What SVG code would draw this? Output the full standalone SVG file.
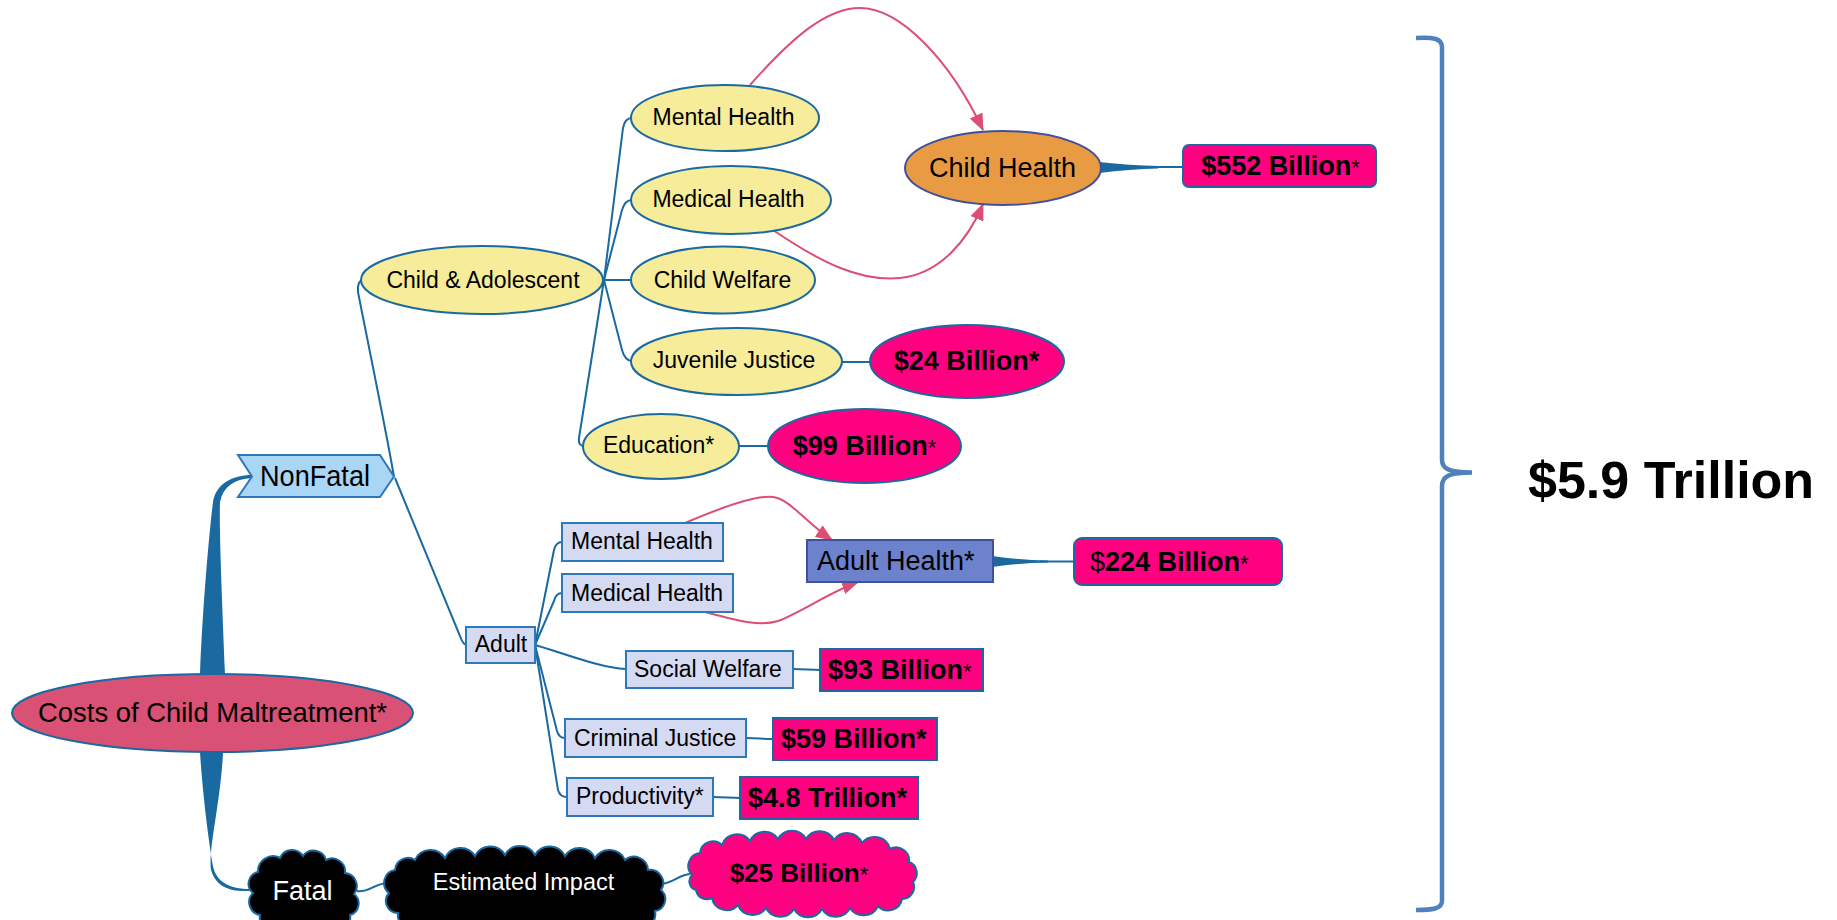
<svg xmlns="http://www.w3.org/2000/svg" width="1837" height="920" viewBox="0 0 1837 920">
<style>
.conn{fill:none;stroke:#1b69a1;stroke-width:2}
.taper{fill:#1b69a1;stroke:none}
.rel{fill:none;stroke:#dc4f74;stroke-width:2}
.yel{fill:#f6ec99;stroke:#1b69a1;stroke-width:2}
.val{fill:#ff0080;stroke:#1b69a1;stroke-width:2}
.abox{fill:#d5daf3;stroke:#2c78b8;stroke-width:2}
.cloud{fill:#000;stroke:#1b69a1;stroke-width:2}
.t{font-family:"Liberation Sans",Arial,Helvetica,sans-serif;font-size:23px;fill:#000}
.b{font-weight:bold;font-size:27px}
.m{text-anchor:middle}
.w{fill:#fff}
.n{font-weight:normal;font-size:22px}
</style>
<defs>
<marker id="ah" markerUnits="userSpaceOnUse" markerWidth="17" markerHeight="14" refX="16" refY="7" orient="auto">
<path d="M0,0 L17,7 L0,14 Z" fill="#dc4f74"/>
</marker>
</defs>
<rect width="1837" height="920" fill="#fff"/>

<g id="connectors">
<path class="taper" d="M200,674 C203,600 210,525 213,502 C216,484 232,475 252,475 L252,478 C234,479 223,487 220,502 C219,525 222,600 225,674 Z"/>
<path class="taper" d="M200,752 C203,800 210,850 213,866 C216,882 230,889 250,889 L250,891 C228,892 216,886 211,870 C208,850 221,800 223,752 Z"/>
<path class="conn" d="M394,477 C388,440 363,318 358,292 Q357,281 363,280"/>
<path class="conn" d="M395,478 L460,636 Q463,645 467,645"/>
<path class="conn" d="M604,280 L623,128 Q625,118 632,118"/>
<path class="conn" d="M604,280 L622,210 Q625,200 632,200"/>
<path class="conn" d="M604,280 L632,280"/>
<path class="conn" d="M604,280 L622,350 Q625,361 632,361"/>
<path class="conn" d="M604,280 L579,438 Q578,446 584,446"/>
<path class="conn" d="M535,645 L554,550 Q556,542 562,542"/>
<path class="conn" d="M535,645 L554,601 Q556,593 562,593"/>
<path class="conn" d="M535,645 C560,652 600,668 626,669"/>
<path class="conn" d="M535,645 L557,731 Q559,738 565,738"/>
<path class="conn" d="M535,645 L558,790 Q560,797 567,797"/>
<path class="conn" d="M842,362 L870,362"/>
<path class="conn" d="M739,446 L768,446"/>
<path class="conn" d="M793,669 C805,669 810,670 820,670"/>
<path class="conn" d="M746,738 C758,738 762,739 773,739"/>
<path class="conn" d="M713,797 C725,797 730,798 740,798"/>
<path class="conn" d="M357,891 C368,893 374,884 387,883"/>
<path class="conn" d="M660,884 C672,884 678,875 690,874"/>
<path class="taper" d="M1099,162 Q1130,165.5 1158,166 L1158,168.5 Q1130,169 1099,173 Z"/>
<path class="conn" d="M1150,167 L1184,167"/>
<path class="taper" d="M992,556 Q1020,560 1048,560.5 L1048,562.5 Q1020,563 992,567 Z"/>
<path class="conn" d="M1040,561.5 L1075,561.5"/>
<path class="rel" marker-end="url(#ah)" d="M750,85 C790,40 825,8 860,8 C900,8 950,60 983,130"/>
<path class="rel" marker-end="url(#ah)" d="M773,230 C820,262 860,282 900,278 C940,274 968,240 983,204"/>
<path class="rel" marker-end="url(#ah)" d="M685,523 C720,508 755,495 773,497 C790,499 805,522 832,540"/>
<path class="rel" marker-end="url(#ah)" d="M705,612 C735,620 760,627 778,621 C800,613 830,592 858,582"/>
</g>

<g id="root">
<ellipse cx="212.5" cy="713" rx="200.5" ry="39" fill="#d95175" stroke="#1b69a1" stroke-width="2"/>
<text class="t m" x="212.5" y="722" style="font-size:27.5px" textLength="349" lengthAdjust="spacingAndGlyphs">Costs of Child Maltreatment*</text>
</g>

<g id="nonfatal">
<polygon points="238,455 380,455 394,476.5 380,497 238,497 252,476.5" fill="#aad6f5" stroke="#2c78b8" stroke-width="2"/>
<text class="t m" x="315" y="486" style="font-size:29px" textLength="110" lengthAdjust="spacingAndGlyphs">NonFatal</text>
</g>

<g id="child-adolescent">
<ellipse class="yel" cx="482" cy="280" rx="121" ry="34"/>
<text class="t m" x="483" y="288">Child &amp; Adolescent</text>
</g>
<g id="child-mental">
<ellipse class="yel" cx="725" cy="118" rx="94" ry="33"/>
<text class="t m" x="723.5" y="125">Mental Health</text>
</g>
<g id="child-medical">
<ellipse class="yel" cx="731" cy="200" rx="100" ry="34"/>
<text class="t m" x="728.5" y="207">Medical Health</text>
</g>
<g id="child-welfare">
<ellipse class="yel" cx="723" cy="280" rx="92" ry="33.5"/>
<text class="t m" x="722.5" y="288">Child Welfare</text>
</g>
<g id="juvenile">
<ellipse class="yel" cx="736.5" cy="361.5" rx="105.5" ry="33.5"/>
<text class="t m" x="734" y="368">Juvenile Justice</text>
</g>
<g id="education">
<ellipse class="yel" cx="661" cy="446.5" rx="78" ry="32.5"/>
<text class="t m" x="658.5" y="453">Education*</text>
</g>
<g id="child-health">
<ellipse cx="1003" cy="168" rx="98" ry="37" fill="#e89b42" stroke="#3f519c" stroke-width="2"/>
<text class="t m" x="1002.5" y="177" style="font-size:27px">Child Health</text>
</g>
<g id="v552">
<rect class="val" x="1183" y="145" width="193" height="42" rx="6"/>
<text class="t b m" x="1280.5" y="175">$552 Billion<tspan class="n">*</tspan></text>
</g>
<g id="v24">
<ellipse class="val" cx="967" cy="361.5" rx="97" ry="36.5"/>
<text class="t b m" x="966.5" y="370">$24 Billion*</text>
</g>
<g id="v99">
<ellipse class="val" cx="864.5" cy="446" rx="96.5" ry="37"/>
<text class="t b m" x="864.5" y="455">$99 Billion<tspan class="n">*</tspan></text>
</g>

<g id="adult">
<rect class="abox" x="466" y="627" width="69" height="36"/>
<text class="t m" x="501" y="652">Adult</text>
</g>
<g id="adult-mental">
<rect class="abox" x="562" y="523" width="161" height="38"/>
<text class="t" x="571" y="549">Mental Health</text>
</g>
<g id="adult-medical">
<rect class="abox" x="562" y="574" width="171" height="38"/>
<text class="t" x="571" y="601">Medical Health</text>
</g>
<g id="social-welfare">
<rect class="abox" x="626" y="651" width="167" height="37"/>
<text class="t" x="634" y="677">Social Welfare</text>
</g>
<g id="criminal-justice">
<rect class="abox" x="565" y="719" width="181" height="38"/>
<text class="t" x="574" y="746">Criminal Justice</text>
</g>
<g id="productivity">
<rect class="abox" x="567" y="778" width="146" height="38"/>
<text class="t" x="576" y="804">Productivity*</text>
</g>
<g id="adult-health">
<rect x="807" y="540" width="186" height="42" fill="#6c82cd" stroke="#3f519c" stroke-width="2"/>
<text class="t" x="817" y="570" style="font-size:27px">Adult Health*</text>
</g>
<g id="v224">
<rect class="val" x="1074" y="538" width="208" height="47" rx="8"/>
<text class="t b" x="1090" y="571"><tspan font-weight="normal">$</tspan>224 Billion<tspan class="n">*</tspan></text>
</g>
<g id="v93">
<rect class="val" x="820" y="649" width="163" height="42"/>
<text class="t b" x="828" y="679">$93 Billion<tspan class="n">*</tspan></text>
</g>
<g id="v59">
<rect class="val" x="773" y="718" width="164" height="42"/>
<text class="t b" x="781" y="748">$59 Billion*</text>
</g>
<g id="v48">
<rect class="val" x="740" y="777" width="178" height="42"/>
<text class="t b" x="748" y="807">$4.8 Trillion*</text>
</g>

<g id="fatal">
<path class="cloud" d="M258,872 A15,15 0 0 1 280,858 A13,13 0 0 1 303,856 A13,13 0 0 1 326,860 A13,13 0 0 1 345,873 A13,13 0 0 1 354,894 A12,12 0 0 1 350,915 A13,13 0 0 1 330,928 A14,14 0 0 1 305,932 A14,14 0 0 1 280,928 A13,13 0 0 1 260,915 A13,13 0 0 1 253,893 A12,12 0 0 1 258,872 Z"/>
<text class="t m w" x="302.5" y="900" style="font-size:27px">Fatal</text>
</g>
<g id="estimated-impact">
<path class="cloud" d="M389,893 A13,13 0 0 1 395,870 A13,13 0 0 1 415,860 A17,17 0 0 1 445,858 A17,17 0 0 1 475,856 A17,17 0 0 1 505,855 A17,17 0 0 1 535,855 A17,17 0 0 1 565,856 A17,17 0 0 1 595,858 A17,17 0 0 1 625,860 A14,14 0 0 1 648,870 A13,13 0 0 1 661,890 A12,12 0 0 1 655,911 A15,15 0 0 1 630,925 A17,17 0 0 1 600,931 A17,17 0 0 1 570,933 A17,17 0 0 1 540,934 A17,17 0 0 1 510,934 A17,17 0 0 1 480,933 A17,17 0 0 1 450,931 A17,17 0 0 1 420,926 A14,14 0 0 1 398,913 A12,12 0 0 1 389,893 Z"/>
<text class="t m w" x="523.5" y="890" style="font-size:23.5px">Estimated Impact</text>
</g>
<g id="v25">
<path class="val" d="M692,875 A13,13 0 0 1 700,853 A13,13 0 0 1 722,845 A16,16 0 0 1 750,841 A16,16 0 0 1 778,839 A16,16 0 0 1 806,839 A16,16 0 0 1 834,840 A16,16 0 0 1 862,843 A16,16 0 0 1 890,849 A13,13 0 0 1 909,862 A12,12 0 0 1 913,882 A12,12 0 0 1 902,899 A14,14 0 0 1 878,906 A16,16 0 0 1 850,908 A16,16 0 0 1 822,909 A16,16 0 0 1 794,909 A16,16 0 0 1 766,908 A16,16 0 0 1 738,905 A15,15 0 0 1 712,898 A11,11 0 0 1 696,890 A9,9 0 0 1 692,875 Z"/>
<text class="t b m" x="799" y="882" style="font-size:26px">$25 Billion<tspan class="n">*</tspan></text>
</g>

<g id="total">
<path d="M1416,38 C1432,37 1442,38 1442,47 L1442,460 C1442,469 1450,472.5 1472,472.5 C1450,472.5 1442,476 1442,486 L1442,901 C1442,909 1432,910 1416,910" fill="none" stroke="#4f81bd" stroke-width="4.5"/>
<text class="t b" x="1528" y="498" style="font-size:52px">$5.9 Trillion</text>
</g>
</svg>
